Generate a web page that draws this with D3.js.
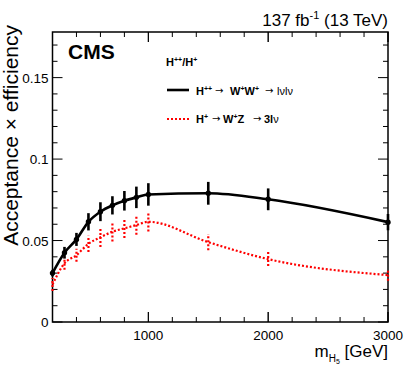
<!DOCTYPE html>
<html>
<head>
<meta charset="utf-8">
<script src="https://cdn.jsdelivr.net/npm/d3@7"></script>
<style>
  body { margin: 0; background: #fff; }
  text { font-family: "Liberation Sans", Arial, sans-serif; }
</style>
</head>
<body>
<svg id="chart" width="407" height="391"></svg>
<script>
// masses in GeV
const masses = [200, 300, 400, 500, 600, 700, 800, 900, 1000, 1500, 2000, 3000];
// H++ -> W+W+ -> lvlv
const wwEff = [0.0300, 0.0425, 0.0507, 0.0615, 0.0677, 0.0716, 0.0744, 0.0765, 0.0783, 0.0790, 0.0753, 0.0613];
const wwErr = [0.0020, 0.0036, 0.0040, 0.0053, 0.0058, 0.0056, 0.0060, 0.0066, 0.0069, 0.0070, 0.0067, 0.0050];
// H+ -> W+Z -> 3lv
const wzEff = [0.0230, 0.0360, 0.0410, 0.0480, 0.0520, 0.0554, 0.0575, 0.0595, 0.0615, 0.0490, 0.0386, 0.0288];
const wzErr = [0.0040, 0.0040, 0.0040, 0.0050, 0.0060, 0.0060, 0.0060, 0.0060, 0.0060, 0.0050, 0.0043, 0.0035];
const xTicks = [1000, 2000, 3000];
const yTicks = [0, 0.05, 0.1, 0.15];

let svg = d3.select("#chart");
let plotLeft = 52.5, plotRight = 388, plotTop = 32, plotBottom = 322;

let x = d3.scaleLinear().domain([200, 3000]).range([plotLeft, plotRight]);
let y = d3.scaleLinear().domain([0, 0.178]).range([plotBottom, plotTop]);

function addTicks(axisG, major, minor, orient)
{
  // ROOT-style inward ticks
  minor.forEach(function(v) {
    let isMajor = major.indexOf(v) >= 0;
    let len = isMajor ? 10 : 5;
    if (orient == "bottom") axisG.append("line").attr("x1", x(v)).attr("x2", x(v)).attr("y1", plotBottom).attr("y2", plotBottom - len);
    if (orient == "top") axisG.append("line").attr("x1", x(v)).attr("x2", x(v)).attr("y1", plotTop).attr("y2", plotTop + len);
    if (orient == "left") axisG.append("line").attr("y1", y(v)).attr("y2", y(v)).attr("x1", plotLeft).attr("x2", plotLeft + len);
    if (orient == "right") axisG.append("line").attr("y1", y(v)).attr("y2", y(v)).attr("x1", plotRight).attr("x2", plotRight - len);
  });
}

let tickG = svg.append("g").attr("stroke", "#000").attr("stroke-width", 1);
let xMinor = d3.range(200, 3001, 200).concat(xTicks);
let yMinor = d3.range(0, 0.1781, 0.01).map(v => +v.toFixed(3));
addTicks(tickG, xTicks, xMinor, "bottom");
addTicks(tickG, xTicks, xMinor, "top");
addTicks(tickG, yTicks, yMinor, "left");
addTicks(tickG, yTicks, yMinor, "right");

svg.append("rect")
  .attr("x", plotLeft).attr("y", plotTop)
  .attr("width", plotRight - plotLeft).attr("height", plotBottom - plotTop)
  .attr("fill", "none").attr("stroke", "#000").attr("stroke-width", 1.5);

// tick labels
svg.selectAll(".xlab").data(xTicks).enter().append("text")
  .attr("x", d => x(d)).attr("y", plotBottom + 18)
  .attr("text-anchor", "middle").style("font-size", "13.5px")
  .text(d => d);
svg.selectAll(".ylab").data(yTicks).enter().append("text")
  .attr("x", plotLeft - 4).attr("y", d => y(d) + 5)
  .attr("text-anchor", "end").style("font-size", "13.5px")
  .text(d => d == 0 ? "0" : String(d));

// axis titles
let xt = svg.append("text").attr("x", plotRight).attr("y", 357)
  .attr("text-anchor", "end").style("font-size", "17px");
xt.append("tspan").text("m");
xt.append("tspan").attr("dy", 5).style("font-size", "10px").text("H");
xt.append("tspan").attr("dy", 2).style("font-size", "7px").text("5");
xt.append("tspan").attr("dy", -7).text(" [GeV]");

svg.append("text")
  .attr("transform", `translate(18,25) rotate(-90)`)
  .attr("text-anchor", "end").style("font-size", "21px")
  .text("Acceptance \u00d7 efficiency");

let lumi = svg.append("text").attr("x", plotRight).attr("y", 26)
  .attr("text-anchor", "end").style("font-size", "17px");
lumi.append("tspan").text("137 fb");
lumi.append("tspan").attr("dy", -7).style("font-size", "11px").text("-1");
lumi.append("tspan").attr("dy", 7).text(" (13 TeV)");

svg.append("text").attr("x", 68).attr("y", 59)
  .style("font-size", "21px").style("font-weight", "bold").text("CMS");

// series
let series = [
  {eff: wwEff, err: wwErr, color: "#000", dash: null, width: 2.6, markers: true},
  {eff: wzEff, err: wzErr, color: "#ff0000", dash: "2,2", width: 2.2, markers: false}
];

let line = d3.line().x(d => x(d[0])).y(d => y(d[1])).curve(d3.curveMonotoneX);

series.slice().reverse().forEach(function(s) {
  let pts = masses.map((m, i) => [m, s.eff[i], s.err[i]]);
  let g = svg.append("g");
  g.append("path")
    .attr("d", line(pts))
    .attr("fill", "none").attr("stroke", s.color)
    .attr("stroke-width", s.width)
    .attr("stroke-dasharray", s.dash);
  g.selectAll(".err").data(pts).enter().append("line")
    .attr("x1", d => x(d[0])).attr("x2", d => x(d[0]))
    .attr("y1", d => y(d[1] - d[2])).attr("y2", d => y(d[1] + d[2]))
    .attr("stroke", s.color).attr("stroke-width", s.width)
    .attr("stroke-dasharray", s.dash);
  if (s.markers) {
    g.selectAll(".pt").data(pts).enter().append("circle")
      .attr("cx", d => x(d[0])).attr("cy", d => y(d[1]))
      .attr("r", 2.7).attr("fill", s.color);
  }
});

// legend
function legendText(xPos, yPos, parts)
{
  let t = svg.append("text").attr("x", xPos).attr("y", yPos)
    .style("font-size", "11px").style("font-weight", "bold");
  parts.forEach(function(p) {
    let ts = t.append("tspan").text(p.t);
    if (p.x != undefined) ts.attr("x", p.x).attr("y", p.arrow ? yPos - 1 : yPos);
    if (p.sup) ts.attr("dy", -4).style("font-size", "7px");
    if (p.back) ts.attr("dy", 4);
    if (p.arrow) ts.style("font-size", "10px").style("font-weight", "normal").attr("font-family", "DejaVu Sans");
    if (p.thin) ts.style("font-weight", "normal");
  });
}

legendText(166, 66, [
  {t: "H"}, {t: "++", sup: true}, {t: "/H", back: true}, {t: "+", sup: true}
]);

svg.append("line").attr("x1", 167).attr("x2", 189).attr("y1", 90).attr("y2", 90)
  .attr("stroke", "#000").attr("stroke-width", 2.6);
legendText(196, 94.5, [
  {t: "H"}, {t: "++", sup: true},
  {t: "\u2192", x: 215, arrow: true},
  {t: "W", x: 230}, {t: "+", sup: true}, {t: "W", back: true}, {t: "+", sup: true},
  {t: "\u2192", x: 265, arrow: true},
  {t: "l\u03bdl\u03bd", x: 277, thin: true}
]);

svg.append("line").attr("x1", 167).attr("x2", 189).attr("y1", 119).attr("y2", 119)
  .attr("stroke", "#ff0000").attr("stroke-width", 2.2).attr("stroke-dasharray", "2,2");
legendText(196, 123, [
  {t: "H"}, {t: "+", sup: true},
  {t: "\u2192", x: 212, arrow: true},
  {t: "W", x: 223}, {t: "+", sup: true}, {t: "Z", back: true},
  {t: "\u2192", x: 253, arrow: true},
  {t: "3l", x: 264}, {t: "\u03bd", thin: true}
]);
</script>
</body>
</html>
